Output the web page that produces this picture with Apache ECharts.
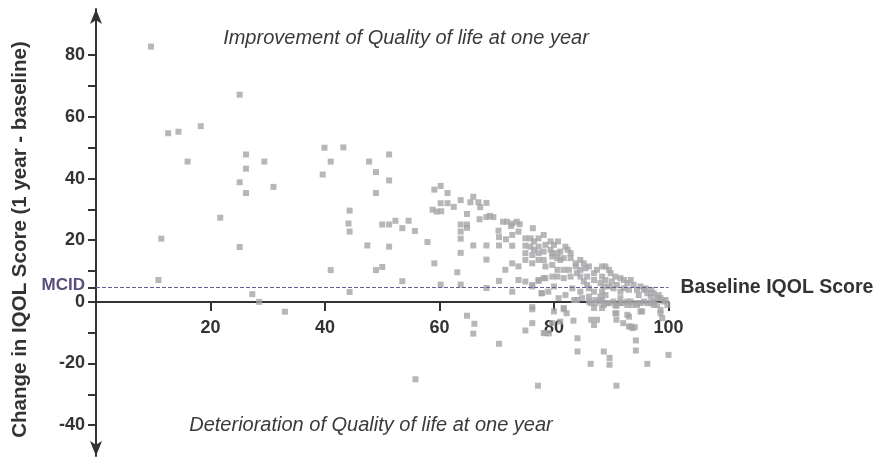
<!DOCTYPE html>
<html>
<head>
<meta charset="utf-8">
<script src="https://cdn.jsdelivr.net/npm/echarts@6/dist/echarts.min.js"></script>
<style>
html,body{margin:0;padding:0;background:#fff;}
#chart{width:875px;height:460px;}
</style>
</head>
<body>
<div id="chart"></div>
<script>
// [baseline IQOL score, change in IQOL score]
var patientPoints = [
  [9.6,82.8],[25.1,67.2],[12.6,54.7],[14.4,55.2],[18.3,57.0],[16.0,45.5],[26.2,47.8],[26.2,43.2],[29.4,45.5],
  [39.9,50.0],[41.0,45.5],[39.6,41.3],[25.1,38.8],[26.2,35.3],[31.0,37.3],[21.7,27.3],[11.4,20.5],[25.1,17.8],
  [41.0,10.3],[10.9,7.1],[27.3,2.5],[28.5,0],[33.0,-3.2],
  [43.2,50.1],[47.7,45.5],[51.2,47.8],[48.9,42.1],[51.2,39.4],[48.9,35.3],[44.3,29.6],[44.1,25.4],[44.3,22.8],
  [50.0,25.1],[51.2,25.1],[52.3,26.3],[53.5,23.9],[54.6,26.3],[55.7,23.0],[47.4,18.3],[51.2,17.9],[57.9,19.4],
  [48.9,10.3],[50.0,11.3],[53.5,6.7],[44.3,3.2],
  [59.1,12.5],[59.1,36.4],[60.2,37.6],[61.4,35.3],[58.8,29.9],[59.5,29.3],[60.3,29.4],[60.2,32.0],[61.4,32.0],
  [62.5,30.8],[63.7,33.0],[64.8,28.5],[65.9,34.1],[65.4,32.3],[66.8,32.3],[67.1,30.7],[68.2,32.1],[67.0,26.8],
  [68.2,27.5],[69.4,27.5],[68.8,27.9],[63.7,25.1],[64.8,25.1],[64.8,24.0],[63.7,22.8],[63.7,20.5],[70.3,23.1],
  [70.4,21.0],[65.9,18.3],[68.2,18.3],[70.4,18.3],[63.7,15.9],[68.2,13.7],[63.1,9.6],[60.2,5.6],[63.7,5.6],
  [68.2,4.5],[70.4,6.8],[64.8,-4.5],[66.1,-7.1],[65.9,-10.3],[70.4,-13.6],[55.8,-25.1],
  [71.1,26.0],[71.8,26.0],[72.7,25.4],[73.5,26.0],[74.0,25.2],[72.5,24.6],[73.8,22.8],[71.6,20.3],[72.7,21.7],
  [76.3,23.9],[72.7,18.2],[72.7,12.5],[73.8,11.5],[71.5,10.4],[73.8,7.1],[72.7,3.3],[76.2,5.0],[77.3,6.8],
  [78.5,7.7],[77.8,2.8],[76.2,-1.7],
  [75.0,20.6],[75.9,20.6],[76.5,19.6],[77.3,20.6],[78.2,21.7],
  [75.0,18.2],[75.9,17.9],[76.5,16.9],[77.3,17.9],[78.5,18.5],[79.4,19.6],[80.0,18.5],[80.7,19.6],
  [75.0,15.8],[76.2,15.2],[77.3,15.8],[78.2,16.3],[79.4,16.9],[79.7,15.8],[80.6,15.8],[81.1,16.3],[82.0,17.9],
  [82.4,16.9],[82.9,15.8],
  [75.0,13.6],[76.2,12.5],[77.3,13.6],[78.2,13.6],[79.7,14.7],[80.6,14.2],[81.1,13.6],[81.7,14.2],[82.9,14.2],
  [83.8,12.5],[84.6,13.6],[85.2,12.5],
  [78.5,11.5],[79.7,12.0],[80.6,10.4],[81.7,10.4],[82.6,10.4],[83.8,11.5],[84.6,10.4],[85.5,10.9],[86.1,11.5],
  [75.0,6.6],[76.2,5.5],[77.3,7.1],[78.2,7.7],[79.7,8.2],[80.6,8.2],[81.7,7.7],[82.9,8.2],[84.0,9.3],[84.6,8.2],
  [85.8,8.2],[87.0,9.3],[87.5,10.4],[88.4,11.5],[89.0,11.5],[89.6,10.4],[89.9,9.3],
  [77.9,2.8],[84.6,3.3],[85.8,5.5],[87.0,7.1],[88.1,6.1],[88.7,5.0],[90.7,8.2],[91.6,7.7],[92.2,7.1],[92.8,6.1],
  [93.1,3.9],[93.9,5.5],[94.5,3.9],[95.1,5.0],[95.7,3.9],[96.3,2.8],[96.9,1.7],[97.4,2.8],[98.0,1.2],[98.6,1.2],
  [99.2,0.1],[99.8,-1.0],
  [88.4,8.2],[89.0,7.1],[89.6,5.0],[88.4,3.3],[89.0,2.2],[86.1,4.4],[87.0,3.3],[90.4,4.4],[91.6,3.3],[92.2,4.4],
  [80.8,1.2],[84.0,0.6],[84.9,1.2],[86.1,1.7],[87.2,-0.4],[88.1,0.1],[88.7,-1.0],[89.6,-0.4],[90.4,0.1],[91.6,1.2],
  [92.8,0.1],[93.7,-1.0],[94.5,-0.4],[96.3,-0.4],[97.4,0.1],
  [86.4,-0.4],[88.1,1.7],[89.3,-0.4],[91.6,-0.4],[92.8,-1.0],[95.1,-0.4],[97.4,-1.0],
  [83.5,0.6],[86.1,0.1],[87.2,0.6],[88.4,0.6],[90.7,-1.0],[91.9,-0.4],[93.4,0.1],[94.5,-1.0],[95.7,0.1],
  [96.9,-0.4],[98.0,-1.0],[87.0,-2.0],[88.4,-2.0],[90.7,-3.7],[95.1,-3.1],[98.6,-2.6],
  [90.1,6.6],[91.0,5.5],[93.4,7.1],[94.8,2.2],[96.0,4.4],[97.0,3.9],[98.3,2.2],[99.5,0.6],[85.2,6.6],
  [83.2,4.4],[82.0,2.2],[80.0,5.0],[79.0,3.3],
  [76.2,-2.4],[76.2,-6.9],[75.0,-9.3],[80.0,-3.1],[79.7,-6.9],[78.5,-10.2],[79.1,-10.2],[81.1,-6.4],[81.7,-2.4],
  [82.2,-3.7],[83.4,-6.1],[84.1,-11.8],[84.1,-16.1],[86.4,-20.1],[86.5,-5.8],[87.0,-7.5],[87.5,-5.8],[88.7,-16.1],
  [89.7,-18.2],[89.7,-20.4],[90.9,-3.7],[90.9,-5.8],[92.1,-6.9],[93.1,-8.0],[93.7,-8.5],[93.1,-4.8],[94.3,-12.5],
  [94.3,-15.8],[96.3,-20.1],[95.4,-3.1],[98.6,-3.7],[98.9,-5.3],[100.0,-17.2],[77.2,-27.2],[90.9,-27.2],
  [78.2,-10.1],[90.9,-1.3],[92.8,-4.2],[93.4,-8.0],[94.1,-8.2],[81.7,-2.0]
];
var mcidValue = 4.6;
var xTickValues = [20, 40, 60, 80, 100];
var yTickValues = [-40, -30, -20, -10, 0, 4.6, 10, 20, 30, 40, 50, 60, 70, 80];
var yLabelValues = [-40, -20, 0, 4.6, 20, 40, 60, 80];
var xAxisTitle = 'Baseline IQOL Score';
var yAxisTitle = 'Change in IQOL Score (1 year - baseline)';
var topNote = 'Improvement of Quality of life at one year';
var bottomNote = 'Deterioration of Quality of life at one year';

var FONT = '"Liberation Sans", Arial, sans-serif';
var chart = echarts.init(document.getElementById('chart'), null, {renderer: 'canvas'});
chart.setOption({
  animation: false,
  backgroundColor: '#ffffff',
  grid: {left: 96, right: 206.5, top: 9, bottom: 4, containLabel: false, outerBoundsMode: 'none'},
  xAxis: {
    type: 'value', min: 0, max: 100,
    position: 'bottom', offset: -154,
    axisLine: {onZero: false, lineStyle: {color: '#333333', width: 2}},
    axisTick: {show: true, customValues: xTickValues, length: 9, lineStyle: {color: '#333333', width: 2}},
    axisLabel: {customValues: xTickValues, margin: 17, color: '#333333', fontSize: 18, fontWeight: 'bold', fontFamily: FONT},
    splitLine: {show: false},
    name: xAxisTitle, nameLocation: 'end', nameGap: 12,
    nameTextStyle: {color: '#333333', fontSize: 19.5, fontWeight: 'bold', fontFamily: FONT, verticalAlign: 'bottom', padding: [0, 0, 4, 0]}
  },
  yAxis: {
    type: 'value', min: -50, max: 95,
    axisLine: {show: true, onZero: false, symbol: ['arrow', 'arrow'], symbolSize: [9, 15], lineStyle: {color: '#333333', width: 2}},
    axisTick: {show: true, customValues: yTickValues, length: 8, lineStyle: {color: '#333333', width: 2}},
    axisLabel: {
      customValues: yLabelValues, margin: 11, color: '#333333', fontSize: 18, fontWeight: 'bold', fontFamily: FONT,
      formatter: function (v) { return Math.abs(v - mcidValue) < 1e-6 ? '{m|MCID}' : String(v); },
      rich: {m: {color: '#5b4d7c', fontSize: 17, fontWeight: 'bold', fontFamily: FONT, padding: [0, 0, 4, 0]}}
    },
    splitLine: {show: false},
    name: yAxisTitle, nameLocation: 'middle', nameGap: 65, nameRotate: 90,
    nameTextStyle: {color: '#333333', fontSize: 20.5, fontWeight: 'bold', fontFamily: FONT, padding: [0, 14, 0, 0]}
  },
  graphic: [
    {type: 'text', x: 406, y: 38, style: {text: topNote, fill: '#3a3a3a', font: 'italic 20px ' + FONT, align: 'center', verticalAlign: 'middle'}},
    {type: 'text', x: 371, y: 425, style: {text: bottomNote, fill: '#3a3a3a', font: 'italic 20px ' + FONT, align: 'center', verticalAlign: 'middle'}}
  ],
  series: [{
    type: 'scatter',
    data: patientPoints,
    symbol: 'rect',
    symbolSize: 6,
    itemStyle: {color: '#a6a4a7'},
    markLine: {
      silent: true, symbol: ['none', 'none'],
      label: {show: false},
      lineStyle: {color: '#6b5e90', type: 'dashed', width: 1},
      data: [[{coord: [0, mcidValue]}, {coord: [100, mcidValue]}]]
    }
  }]
});
</script>
</body>
</html>
